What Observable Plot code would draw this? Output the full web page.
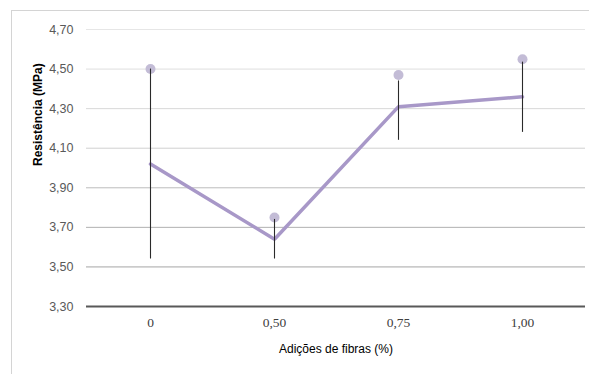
<!DOCTYPE html>
<html>
<head>
<meta charset="utf-8">
<script src="https://cdn.jsdelivr.net/npm/d3@7"></script>
<script src="https://cdn.jsdelivr.net/npm/@observablehq/plot@0.6"></script>
<style>
  html, body { margin: 0; padding: 0; background: #fff; }
  #frame { position: absolute; left: 11px; top: 10px; width: 578px; height: 364px;
           border-left: 1px solid #d4d4d4; border-top: 1px solid #d4d4d4; }
</style>
</head>
<body>
<div id="frame"></div>
<script>
const categories = ["0", "0,50", "0,75", "1,00"];
const means = [4.02, 3.64, 4.31, 4.36];
const maxima = [4.50, 3.75, 4.47, 4.55];
const errLow = [3.54, 3.54, 4.14, 4.18];
const errHigh = [4.50, 3.74, 4.44, 4.535];
const yTicks = [3.30, 3.50, 3.70, 3.90, 4.10, 4.30, 4.50, 4.70];
const gridColors = ["#595959", "#a6a6a6", "#b0b0b0", "#bdbdbd", "#d0d0d0", "#d8d8d8", "#dedede", "#e6e6e6"];

const rows = categories.map((c, i) => ({c, mean: means[i], max: maxima[i], lo: errLow[i], hi: errHigh[i]}));
const grid = yTicks.map((v, i) => ({v, color: gridColors[i]}));

const fmt = v => v.toFixed(2).replace(".", ",");

const chart = Plot.plot({
  width: 578,
  height: 364,
  marginLeft: 74,
  marginRight: 5,
  marginTop: 18,
  marginBottom: 69,
  x: {type: "band", domain: categories, padding: 0, axis: null},
  y: {domain: [3.30, 4.70], axis: null},
  marks: [
    Plot.ruleY(grid.slice(1), {y: "v", stroke: "color", strokeWidth: 1}),
    Plot.ruleY(grid.slice(0, 1), {y: "v", stroke: "color", strokeWidth: 2.2}),
    Plot.text(yTicks, {frameAnchor: "left", y: d => d, text: d => fmt(d), textAnchor: "end", dx: -13,
      fill: "#595959", fontSize: 12.5, fontFamily: "Liberation Sans"}),
    Plot.text(categories, {x: d => d, frameAnchor: "bottom", text: d => d, dy: 20,
      fill: "#404040", fontSize: 13.5, fontFamily: "Liberation Serif"}),
    Plot.text(["Adições de fibras (%)"], {frameAnchor: "bottom", text: d => d, dy: 46,
      fill: "#000", fontSize: 12, fontFamily: "Liberation Sans"}),
    Plot.text(["Resistência (MPa)"], {frameAnchor: "left", text: d => d, rotate: -90, dx: -48, dy: -2,
      fill: "#000", fontSize: 12, fontWeight: "bold", fontFamily: "Liberation Sans"}),
    Plot.line(rows, {x: "c", y: "mean", stroke: "#a898c8", strokeWidth: 3.5, strokeLinejoin: "miter"}),
    Plot.dot(rows, {x: "c", y: "max", r: 5, fill: "#c3bcd6", stroke: "none"}),
    Plot.ruleX(rows, {x: "c", y1: "lo", y2: "hi", stroke: "#2a2a2a", strokeWidth: 1.1})
  ],
  style: {background: "transparent", overflow: "visible"}
});
chart.style.position = "absolute";
chart.style.left = "12px";
chart.style.top = "11px";
document.body.appendChild(chart);
</script>
</body>
</html>
